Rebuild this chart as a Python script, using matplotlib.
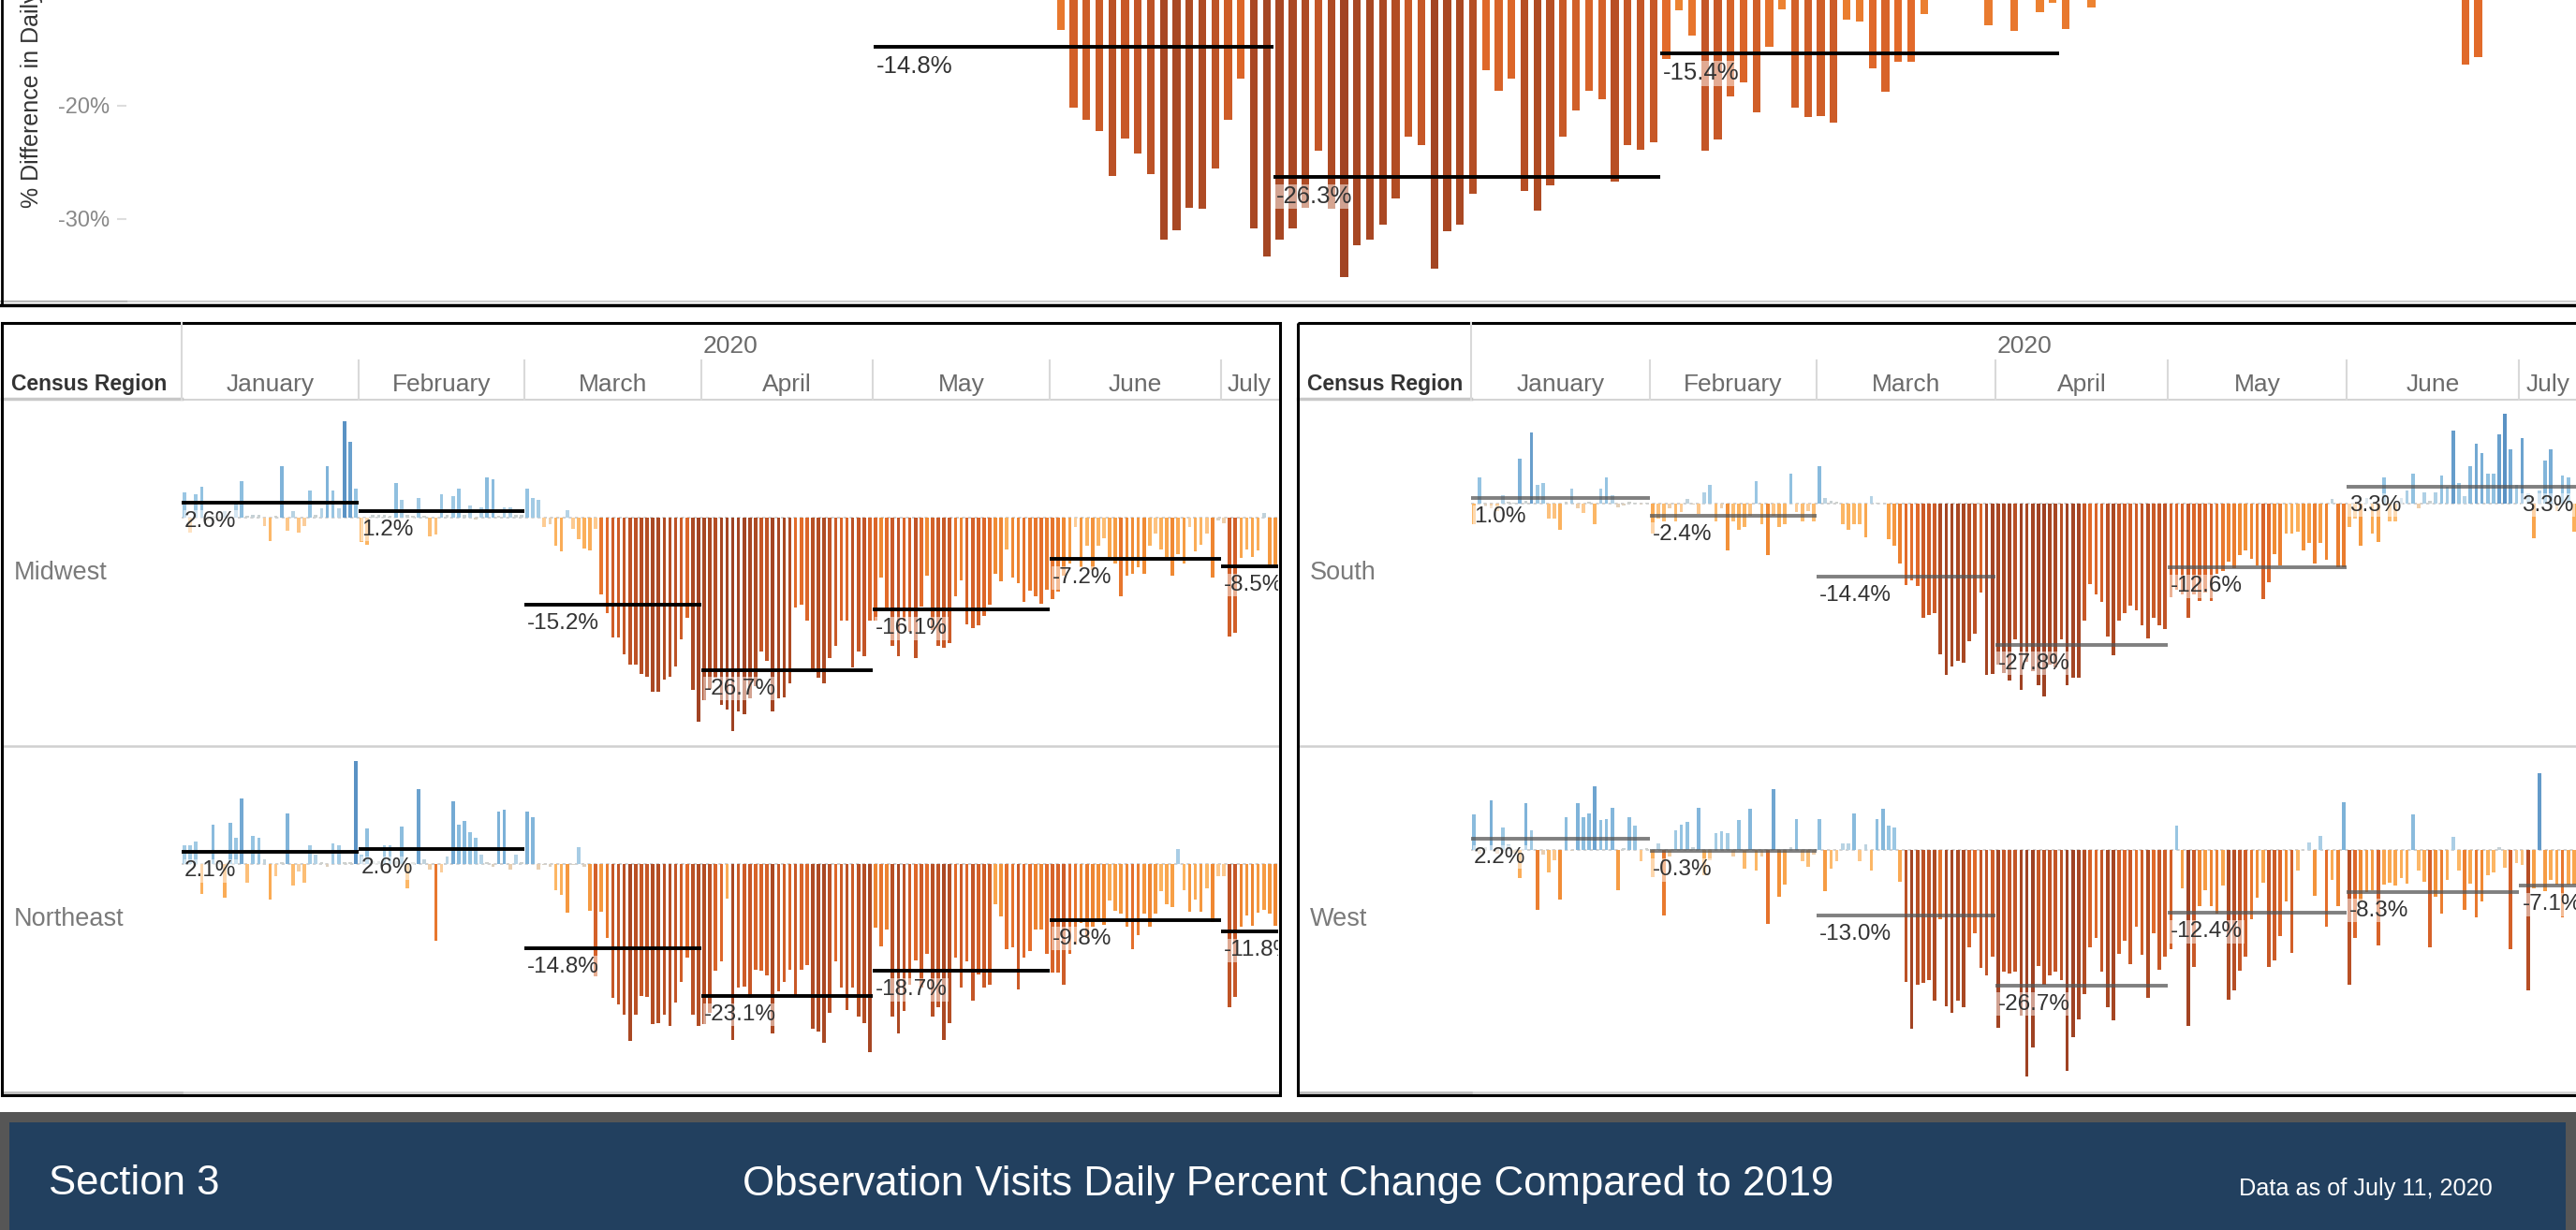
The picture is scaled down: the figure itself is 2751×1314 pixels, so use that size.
import numpy as np
import matplotlib
matplotlib.use("Agg")
import matplotlib.pyplot as plt
from matplotlib.colors import LinearSegmentedColormap, Normalize
from matplotlib.transforms import blended_transform_factory, offset_copy
from matplotlib.patches import Rectangle

plt.rcParams['font.family'] = ['Liberation Sans', 'DejaVu Sans']

# ---------------- data ----------------
month_names = ['January', 'February', 'March', 'April', 'May', 'June', 'July']
month_days = [31, 29, 31, 30, 31, 30, 10]
year_label = '2020'
region_header = 'Census Region'

national_daily = [
    2, 1, 3, 2, 0, 1, 2, 1, 3, 2, 5, 1, 2, 1, 0, -1, 2, 3, 1, 0, -1, 2, 2, 3, 2, 4, 2, 3, 8, 6, 4,
    0, -1, 1, 1, 2, 2, 3, 2, -1, 2, 4, 1, -1, -3, 1, 1, 4, 3, 3, 2, -1, 2, 3, 3, 4, 4, 1, 2, 1,
    4, 3, 1, -1, -2, 0, -3, -2, -4, -5, -2, -5, -7, -10.3, -13.3, -20.2, -21.2, -22.2, -26.2, -22.9,
    -24.2, -26.0, -31.8, -31.0, -29.0, -29.1, -25.5, -21.2, -17.6, -30.8, -33.3,
    -31.8, -30.8, -29.0, -24.0, -29.1, -35.1, -32.3, -31.8, -30.5, -28.2, -22.7, -23.5, -34.4, -31.1,
    -30.5, -27.8, -16.9, -18.7, -17.6, -27.5, -29.3, -27.0, -22.7, -20.4, -18.7, -19.4, -26.7, -23.5, -23.9, -23.2,
    -15.9, -11.6, -13.8, -24.0, -23.0, -19.2, -17.9, -20.6, -14.8, -11.5, -20.2, -21.0, -20.9, -21.5, -12.4,
    -12.6, -16.7, -18.8, -16.1, -16.1, -11.9, -10.5, -10.5, -10.5, -10.5, -12.9, -10.5, -13.4, -10.5, -11.7, -10.9,
    -13.2, -9.0, -11.3, -7.0, -6.0, -9.0, -5.0, -4.0, -6.0, -5.0, -4.0, -3.0, -8.0, -7.0, -6.0,
    -5.0, -6.0, -3.0, -2.0, -4.0, -5.0, -6.0, -7.0, -5.0, -3.0, -3.0, -2.0, -2.0, -7.0, -1.0,
    -2.0, -16.4, -15.7, -5.0, -5.0, -6.0, -4.0, -2.0, -6.0, -7.0,
]
national_month_avg = [2.2, 1.4, -14.8, -26.3, -15.4, -5.3, -6.5]

midwest_daily = [
    4.5, -2.6, 4.2, 5.4, -0.5, 0.3, -0.3, 1.1, 0.2, 2.5, 6.4, 0.4, 0.6, 0.5, -1.5, -4.0, 0.3, 9.1, -2.3, 1.2,
    -2.6, -1.5, 4.8, 0.5, 1.6, 9.1, 4.8, 1.6, 16.9, 13.3, 5.1,
    -4.3, -4.7, 0.5, 0.5, 0.5, 0.3, 6.1, 3.2, 0.5, 0.3, 3.5, 0.3, -3.3, -3.0, 4.2, 0.5, 3.8, 5.1, 0.5, 2.2,
    -0.3, 1.9, 7.1, 6.8, 0.3, 1.9, 1.9, 0.5, 0.5,
    5.1, 3.5, 3.2, -1.6, -1.1, -4.9, -5.9, 1.4, -1.9, -3.8, -5.4, -5.7, -1.9, -13.5, -16.7, -21.0, -21.0,
    -23.9, -25.7, -25.7, -27.3, -27.9, -30.5, -30.5, -28.4, -27.9, -26.0, -21.3, -17.5, -30.2, -35.8,
    -32.0, -30.0, -28.0, -32.8, -33.6, -37.4, -33.9, -34.4, -31.7, -29.5, -23.5, -25.1, -33.9, -31.7, -31.4,
    -29.0, -15.8, -15.3, -18.0, -26.8, -28.1, -29.0, -24.6, -22.4, -18.0, -18.0, -26.2, -23.5, -24.3, -18.0,
    -18.0, -10.4, -15.8, -22.4, -24.3, -18.0, -20.0, -24.6, -15.6, -10.1, -19.7, -22.4, -22.7, -21.9, -13.7,
    -10.9, -18.6, -19.4, -18.9, -17.2, -15.3, -9.8, -11.2, -5.5, -10.4, -11.5, -14.8, -12.8, -13.7, -15.0, -12.6,
    -14.2, -12.9, -10.2, -8.0, -1.6, -8.6, -4.9, -9.1, -4.9, -3.6, -6.9, -8.0, -13.7, -10.1, -9.8,
    -8.7, -9.8, -4.9, -2.7, -5.5, -6.9, -10.2, -6.4, -8.0, -1.6, -5.8, -4.7, -2.7, -10.5, -0.5,
    -1.0, -20.8, -20.2, -7.0, -5.5, -6.9, -5.7, 0.8, -8.2, -8.6,
]
midwest_month_avg = [2.6, 1.2, -15.2, -26.7, -16.1, -7.2, -8.5]

northeast_daily = [
    3.3, 3.3, 3.9, -5.2, 0.5, 6.9, 0.7, -5.9, 7.2, 4.6, 11.5, -3.2, 4.9, 4.6, 0.9, -6.2, -2.1, 0.3, 8.9, -3.7,
    -1.3, -3.3, 3.3, 1.7, 0.3, -0.4, 3.6, 3.3, 0.3, 0.3, 18.0,
    1.7, 6.2, 0.5, 0.5, 3.3, 3.3, 0.5, 6.6, -4.3, 0.3, 13.1, 0.9, -1.0, -13.4, -1.5, 1.3, 11.1, 6.9, 7.5, 5.6,
    4.6, 1.6, 0.3, -0.4, 9.2, 9.5, -0.9, 1.6, 0.3,
    9.2, 8.2, -0.9, -0.2, -0.5, -4.5, -5.4, -8.5, -0.2, 3.0, -0.5, -8.2, -19.6, -8.4, -13.0, -23.5, -24.5,
    -26.4, -31.0, -26.4, -23.1, -23.3, -28.0, -27.8, -26.4, -28.3, -24.2, -20.7, -16.3, -26.4, -28.3,
    -28.0, -26.1, -18.7, -17.0, -6.0, -30.8, -21.7, -21.5, -23.4, -18.5, -18.7, -19.5, -29.7, -22.3, -20.7,
    -18.5, -23.0, -18.5, -17.7, -28.9, -29.4, -31.3, -26.1, -17.1, -21.7, -25.6, -21.7, -26.7, -27.8, -33.0,
    -11.1, -14.4, -11.4, -26.7, -29.7, -25.8, -21.2, -16.8, -21.7, -15.7, -26.7, -25.0, -30.8, -27.8, -16.3,
    -21.7, -17.1, -23.9, -19.3, -21.7, -21.2, -7.0, -9.2, -14.9, -14.6, -22.0, -16.3, -15.2, -11.4, -11.4, -15.7,
    -19.0, -19.0, -21.2, -15.7, -14.0, -10.3, -13.0, -10.9, -9.7, -10.6, -6.4, -8.1, -8.6, -10.9, -14.9,
    -12.5, -8.6, -10.9, -8.6, -4.8, -7.0, -7.5, 2.7, -4.5, -8.4, -6.2, -8.4, -4.3, -10.1, -2.1,
    -2.1, -25.1, -23.3, -11.0, -9.0, -10.8, -8.5, -8.0, -8.6, -10.8,
]
northeast_month_avg = [2.1, 2.6, -14.8, -23.1, -18.7, -9.8, -11.8]

south_daily = [
    -4.1, 5.1, -0.5, -1.0, -1.5, 1.7, 0.3, 0.2, 8.8, 0.5, 13.9, 3.6, 4.0, -2.9, -2.9, -5.1, 0.3, 2.9, -1.0, -1.8,
    0.3, -4.1, 2.9, 5.1, 1.7, -0.7, -0.4, 0.3, 0.2, -0.3, 0.2,
    -6.0, -3.0, -3.5, -1.0, -3.5, -1.6, 0.9, -0.3, -2.0, 2.1, 3.6, -3.5, -1.0, -9.2, -3.5, -5.1, -4.7, -2.5,
    4.4, -4.1, -10.2, -2.5, -4.7, -4.1, 5.8, -1.7, -3.5, -1.5, -3.5,
    7.3, 1.0, 0.5, 0.3, -4.1, -5.1, -4.1, -4.1, -6.6, 1.4, 0.2, -0.1, -7.1, -8.4, -11.8, -16.1, -15.2, -16.3,
    -22.4, -21.9, -21.5, -29.6, -33.7, -32.0, -31.0, -31.4, -27.0, -25.6, -17.6, -33.7, -33.6,
    -31.7, -33.3, -34.8, -26.8, -36.6, -31.1, -32.9, -35.7, -37.9, -31.7, -32.3, -26.8, -35.7, -34.2, -34.2,
    -23.1, -15.8, -17.9, -19.4, -26.2, -29.9, -23.1, -21.6, -20.1, -21.0, -24.0, -26.5, -22.5, -24.0, -24.7,
    -18.5, -17.0, -17.9, -22.5, -17.9, -19.1, -17.6, -19.1, -13.9, -13.3, -11.5, -12.7, -10.2, -9.3, -10.9,
    -12.1, -18.8, -15.5, -9.9, -12.1, -6.0, -6.0, -5.5, -9.3, -7.8, -11.8, -7.8, -11.0, 0.8, -12.5, -12.5,
    -4.7, -3.0, -8.4, 1.0, -6.0, -7.5, 5.1, -3.5, -3.5, 1.0, 2.6, 5.8, -1.0, 2.1, 0.5,
    2.1, 5.4, 3.3, 14.3, 4.0, 1.4, 7.3, 11.7, 9.9, 5.8, 5.8, 13.6, 17.6, 10.6, 3.6,
    12.8, 2.0, -6.9, 2.5, 8.4, 10.6, -1.5, 5.5, 5.1, -5.5,
]
south_month_avg = [1.0, -2.4, -14.4, -27.8, -12.6, 3.3, 3.3]

west_daily = [
    6.9, -0.7, 0.5, 9.8, -0.8, 4.3, 1.0, -0.7, -5.6, 9.1, 3.9, -11.9, -0.9, -4.5, -2.0, -9.7, 6.5, -0.3, 9.1, 6.5,
    7.2, 12.4, 5.8, 6.1, 8.3, -7.9, 0.4, 6.5, 4.7, -2.3, 0.3,
    -5.3, 1.3, -13.0, -1.3, 3.9, 5.0, 5.4, 0.6, 8.3, -5.0, -2.0, 3.2, 3.6, 3.2, -1.3, 5.8, -3.8, 8.0, -4.1,
    -1.3, -14.5, 12.0, -9.3, -6.9, 0.6, 6.1, -2.3, -3.4, -1.0,
    6.1, -8.1, -3.8, -2.3, 1.3, 1.3, 7.2, -2.3, 1.1, -4.1, 6.1, 8.0, 4.7, 4.3, -6.3, -25.9, -35.1, -26.5,
    -26.2, -25.6, -29.6, -13.6, -30.7, -32.0, -29.6, -30.9, -19.1, -16.4, -23.3, -24.7, -21.0,
    -35.0, -24.0, -24.4, -24.0, -32.6, -44.6, -38.8, -22.8, -26.5, -24.7, -24.0, -25.6, -43.5, -36.9, -33.3,
    -28.3, -19.1, -17.3, -24.0, -30.9, -33.5, -20.4, -17.9, -22.5, -15.2, -20.7, -29.1, -16.4, -23.6, -21.0,
    -19.5, 4.7, -7.5, -34.6, -23.0, -11.0, -8.0, -11.0, -12.5, -7.0, -29.4, -27.7, -23.7, -21.0, -13.6,
    -9.5, -6.5, -23.1, -21.7, -17.0, -10.2, -20.2, -4.0, -0.1, 1.5, -9.0, 2.8, -15.2, -6.0, -11.0, 9.4,
    -26.6, -17.3, -10.0, -8.4, -8.0, -18.8, -6.9, -6.5, -7.0, -5.5, -6.6, 6.9, -4.0, -6.3, -19.1,
    -9.3, -12.5, -6.0, 2.5, -4.1, -11.8, -6.6, -13.3, -10.2, -5.0, -4.5, 0.6, -3.5, -19.6, -2.6,
    -3.0, -27.6, -7.5, 15.0, -8.1, -6.0, -6.9, -13.3, -6.8, -6.9,
]
west_month_avg = [2.2, -0.3, -13.0, -26.7, -12.4, -8.3, -7.1]

banner_left = 'Section 3'
banner_title = 'Observation Visits Daily Percent Change Compared to 2019'
banner_right = 'Data as of July 11, 2020'
y_title = '% Difference in Daily Visits'

# ---------------- styling ----------------
W, H = 2751, 1314
fig = plt.figure(figsize=(W / 100, H / 100), dpi=100)
bg = fig.add_axes([0, 0, 1, 1])
bg.set_xlim(0, W)
bg.set_ylim(H, 0)
bg.axis('off')

VMIN, VMAX = -37.0, 17.0
color_stops = [(-37, '#9f4223'), (-30, '#ab4923'), (-24, '#c45627'), (-16, '#e26a2a'),
               (-10, '#f08a33'), (-7, '#f9a54c'), (-4, '#fcb868'), (-1.5, '#fdcd97'),
               (0, '#d2d0c9'), (1.5, '#b5d3e6'), (5, '#95c4e2'), (10, '#7aafd7'), (17, '#5a92c4')]
cmap = LinearSegmentedColormap.from_list(
    'tab_ob', [((v - VMIN) / (VMAX - VMIN), c) for v, c in color_stops])
norm = Normalize(vmin=VMIN, vmax=VMAX)

cum = np.concatenate([[0], np.cumsum(month_days)])
ndays = int(cum[-1])
TXT = '#333333'
GRAY_TXT = '#6b6b6b'


def px_axes(x0, y0, x1, y1):
    ax = fig.add_axes([x0 / W, 1 - y1 / H, (x1 - x0) / W, (y1 - y0) / H])
    ax.patch.set_alpha(0)
    for s in ax.spines.values():
        s.set_visible(False)
    return ax


def draw_series(ax, daily, avgs, line_color, line_alpha, xlim, ylim, fs=17.5):
    vals = np.asarray(daily, dtype=float)
    x = np.arange(len(vals)) + 0.5
    ax.bar(x, vals, width=0.6, color=cmap(norm(vals)), linewidth=0, zorder=2)
    ax.axhline(0, color='#c8c8c8', lw=1.2, ls=(0, (2, 2)), zorder=1)
    off = offset_copy(ax.transData, fig=fig, x=3, y=-9, units='dots')
    for i, a in enumerate(avgs):
        ax.hlines(a, cum[i], cum[i + 1], color=line_color, alpha=line_alpha, lw=2.8, zorder=3)
        if not (ylim[0] + 3 < a < ylim[1]):
            continue  # label lies outside the visible window (as in the reference)
        t = ax.text(cum[i], a, f'{a:.1f}%', transform=off, ha='left', va='top', fontsize=fs,
                    color=TXT, zorder=4, clip_on=True,
                    bbox=dict(facecolor='white', alpha=0.5, edgecolor='none', pad=1.0))
        t.set_clip_box(ax.bbox)
    ax.set_xlim(*xlim)
    ax.set_ylim(*ylim)
    ax.set_xticks([])
    ax.set_yticks([])


# ---------------- top (national) panel ----------------
top = px_axes(135, 0, W, 323)
draw_series(top, national_daily, national_month_avg, 'black', 1.0, (2.0, 192.1), (-37.36, -10.66), fs=18.5)
top.set_yticks([-20, -30])
top.set_yticklabels(['-20%', '-30%'])
top.tick_params(axis='y', colors='#dddddd', labelcolor='#888888', labelsize=17, length=7, width=1.5, pad=6)
bg.plot([0, W], [322, 322], color='#d0d0d0', lw=1.5)
bg.plot([0, 135], [322, 322], color='#b8b8b8', lw=1.5)
bg.plot([0, W], [326, 326], color='black', lw=2.5)
bg.plot([1.5, 1.5], [0, 326], color='black', lw=2)
bg.text(34, 222, y_title, rotation=90, rotation_mode='anchor', ha='left', va='center',
        fontsize=18, color=TXT)

# ---------------- bottom panels ----------------
HEAD_TOP, MID, HEAD_BOT, ROW_SPLIT, PLOT_BOT = 345, 385, 427, 797, 1167
panels = [
    dict(x0=2, x1=1367, px0=194, px1=1365, line='black', alpha=1.0, ylim=(-40.0, 20.7),
         rows=[('Midwest', midwest_daily, midwest_month_avg), ('Northeast', northeast_daily, northeast_month_avg)]),
    dict(x0=1386, x1=2762, px0=1571, px1=2752, line='#555555', alpha=0.75, ylim=(-47.7, 20.4),
         rows=[('South', south_daily, south_month_avg), ('West', west_daily, west_month_avg)]),
]

for p in panels:
    axes = []
    for r, (name, daily, avgs) in enumerate(p['rows']):
        y0 = HEAD_BOT if r == 0 else ROW_SPLIT
        y1 = ROW_SPLIT if r == 0 else PLOT_BOT
        ax = px_axes(p['px0'], y0, p['px1'], y1)
        draw_series(ax, daily, avgs, p['line'], p['alpha'], (0, ndays), p['ylim'])
        axes.append(ax)
        bg.text(p['x0'] + 13, (y0 + y1) / 2, name, ha='left', va='center', fontsize=19.5, color='#7a7a7a')
    ax = axes[0]
    tr = blended_transform_factory(ax.transData, bg.transData)
    # header grid
    for i in range(1, len(cum) - 1):
        ax.plot([cum[i], cum[i]], [MID, HEAD_BOT], transform=tr, color='#d9d9d9', lw=1.5, clip_on=False)
    ax.plot([0, 0], [HEAD_TOP, HEAD_BOT], transform=tr, color='#d9d9d9', lw=1.5, clip_on=False)
    for i, m in enumerate(month_names):
        ax.text((cum[i] + cum[i + 1]) / 2, 411, m, transform=tr, ha='center', va='center',
                fontsize=19, color=GRAY_TXT, clip_on=False)
    ax.text(ndays / 2, 370, year_label, transform=tr, ha='center', va='center', fontsize=19,
            color=GRAY_TXT, clip_on=False)
    # horizontal rules
    bg.plot([p['px0'], p['x1']], [HEAD_BOT, HEAD_BOT], color='#d4d4d4', lw=1.5)
    bg.plot([p['x0'], p['px0']], [HEAD_BOT - 1, HEAD_BOT - 1], color='#c8c8c8', lw=2.5)
    bg.plot([p['x0'], p['x1']], [ROW_SPLIT, ROW_SPLIT], color='#d0d0d0', lw=1.8)
    bg.plot([p['x0'], p['x1']], [PLOT_BOT, PLOT_BOT], color='#d0d0d0', lw=1.8)
    bg.plot([p['x0'], p['px0']], [PLOT_BOT, PLOT_BOT], color='#bdbdbd', lw=1.8)
    bg.text(p['x0'] + 10, 410, region_header, ha='left', va='center', fontsize=16.5,
            fontweight='bold', color=TXT)
    bg.add_patch(Rectangle((p['x0'], HEAD_TOP), p['x1'] - p['x0'], 1170 - HEAD_TOP,
                           fill=False, edgecolor='black', lw=2.2, zorder=5))

# ---------------- banner ----------------
bg.add_patch(Rectangle((0, 1188), W, H - 1188, facecolor='#565656', edgecolor='none'))
bg.add_patch(Rectangle((10, 1199), W - 21, H - 1199, facecolor='#22405f', edgecolor='none'))
bg.text(52, 1264, banner_left, fontsize=31.5, color='white', ha='left', va='center')
bg.text(1376, 1266, banner_title, fontsize=31.5, color='white', ha='center', va='center')
bg.text(2391, 1270, banner_right, fontsize=18.2, color='white', ha='left', va='center')

fig.savefig('out.png', dpi=100)
